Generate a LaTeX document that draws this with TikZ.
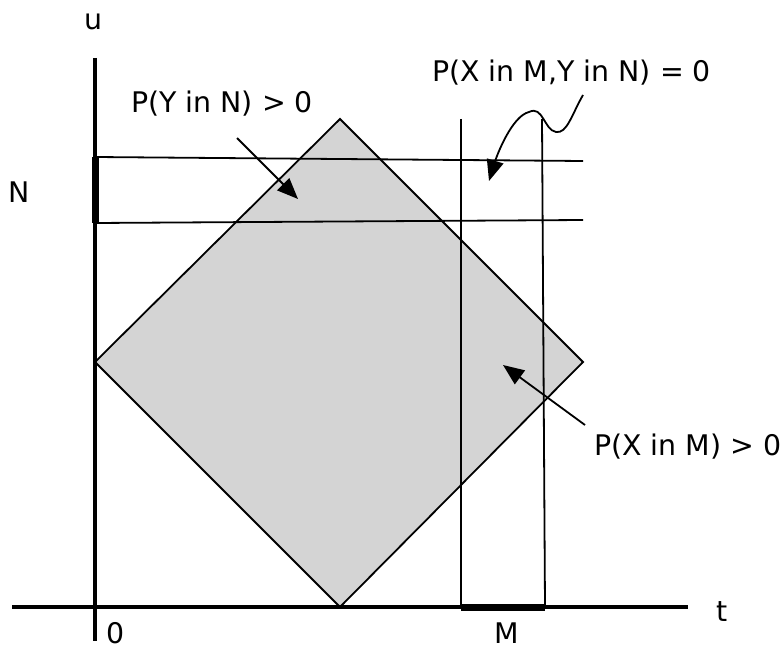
\documentclass[tikz,border=0pt]{standalone}
\usepackage{fontspec}
\setmainfont{DejaVu Sans}
\usetikzlibrary{arrows.meta}
\tikzset{
  lbl/.style={inner sep=0pt, font=\fontsize{28.4}{32}\selectfont},
  ax/.style={line width=3.2pt},
  thin/.style={line width=1.8pt},
  seg/.style={line width=7pt},
  pointer/.style={line width=1.8pt, -{Triangle[length=21pt,width=17pt]}}
}
\begin{document}
\begin{tikzpicture}[x=1pt,y=-1pt]
\useasboundingbox (0,0) rectangle (781,647);
% coordinates
\coordinate (dT) at (340,119);
\coordinate (dR) at (583,362);
\coordinate (dB) at (340,607);
\coordinate (dL) at (95,362);
\coordinate (uTop) at (95,58);
\coordinate (uBot) at (95,641);
\coordinate (tL) at (12,607);
\coordinate (tR) at (688,607);
\coordinate (n1) at (95,157);
\coordinate (n2) at (95,223);
\coordinate (n1e) at (583,161);
\coordinate (n2e) at (583,220);
\coordinate (m1) at (461,607);
\coordinate (m2) at (545,607);
\coordinate (m1t) at (461,119);
\coordinate (m2t) at (542,119);
% diamond
\filldraw[fill=black!17, draw=black, thin] (dT) -- (dR) -- (dB) -- (dL) -- cycle;
% horizontal N lines
\draw[thin] (n1) -- (n1e);
\draw[thin] (n2) -- (n2e);
% vertical M lines
\draw[thin] (m1t) -- (m1);
\draw[thin] (m2t) -- (m2);
% axes
\draw[ax] (uTop) -- (uBot);
\draw[ax] (tL) -- (tR);
% thick segments
\draw[seg] (n1) -- (n2);
\draw[seg] (m1) -- (m2);
% labels
\node[lbl] (u) at (93,22) {u};
\node[lbl] (N) at (19,192) {N};
\node[lbl] (t) at (722,612) {t};
\node[lbl, anchor=base] (zero) at (116,643) {0};
\node[lbl, anchor=base] (M) at (507,643) {M};
\node[lbl, anchor=west] (pyn) at (131,104) {P(Y in N) > 0};
\node[lbl, anchor=west] (pxy) at (432,73) {P(X in M,Y in N) = 0};
\node[lbl, anchor=west] (pxm) at (594,447) {P(X in M) > 0};
% pointers
\coordinate (a1s) at (237,138);
\coordinate (a1e) at (298,199);
\draw[pointer] (a1s) -- (a1e);
\coordinate (a2s) at (585,425);
\coordinate (a2e) at (503,365);
\draw[pointer] (a2s) -- (a2e);
\coordinate (sq0) at (583,95);
\coordinate (sq1) at (556,132);
\coordinate (sq2) at (529,112);
\coordinate (sqe) at (489,181);
\draw[pointer] (sq0) .. controls (572,114) and (567,134) .. (sq1)
  .. controls (544,130) and (543,105) .. (sq2)
  .. controls (512,116) and (497,155) .. (sqe);
\end{tikzpicture}
\end{document}
